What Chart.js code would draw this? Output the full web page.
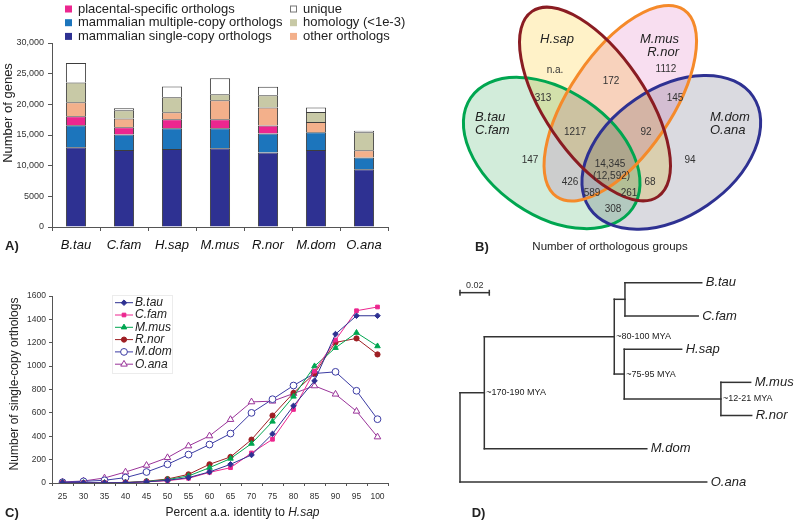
<!DOCTYPE html>
<html>
<head>
<meta charset="utf-8">
<script src="https://cdn.jsdelivr.net/npm/chart.js@4.4.1/dist/chart.umd.min.js"></script>
<style>
  body { margin: 0; background: #fff; }
  #wrap { position: relative; width: 800px; height: 523px; overflow: hidden; background: #fff; }
  canvas { position: absolute; }
</style>
</head>
<body>
<div id="wrap">
  <canvas id="barChart" width="420" height="260" style="left:0;top:0"></canvas>
  <canvas id="vennChart" width="370" height="270" style="left:430px;top:0"></canvas>
  <canvas id="lineChart" width="420" height="263" style="left:0;top:260px"></canvas>
  <canvas id="treeChart" width="370" height="253" style="left:430px;top:270px"></canvas>
</div>
<script>
const FONT = "'Liberation Sans', Arial, Helvetica, sans-serif";
Chart.defaults.font.family = FONT;
Chart.defaults.color = "#333";
Chart.defaults.animation = false;

// ---- A) genes per species, stacked
const species = ["B.tau", "C.fam", "H.sap", "M.mus", "R.nor", "M.dom", "O.ana"];
const singleCopy = [13000, 12550, 12700, 12850, 12150, 12550, 9400];
const multiCopy = [3600, 2550, 3400, 3250, 3100, 2900, 1950];
const placentalSpecific = [1450, 1150, 1450, 1450, 1300, 0, 0];
const otherOrthologs = [2300, 1450, 1150, 3100, 2950, 1650, 1150];
const homology = [3200, 1350, 2450, 1000, 2000, 1650, 2950];
const unique = [3200, 300, 1750, 2600, 1350, 750, 250];
const geneTicks = [0, 5000, 10000, 15000, 20000, 25000, 30000];

// ---- B) venn counts
const vennSets = [["B.tau", "C.fam"], ["H.sap"], ["M.mus", "R.nor"], ["M.dom", "O.ana"]];
const vennCounts = ["n.a.", 172, 1112, 313, 145, 1217, 92, 147, 94, 14345, 426, 68, 589, 261, 308];
const vennCoreSingleCopy = 12592;

// ---- C) single-copy orthologs by identity
const identityBins = ["25", "30", "35", "40", "45", "50", "55", "60", "65", "70", "75", "80", "85", "90", "95", "100"];
const lineSpecies = ["B.tau", "C.fam", "M.mus", "R.nor", "M.dom", "O.ana"];
const btauCounts = [3, 2, 1, 3, 10, 23, 46, 95, 160, 240, 420, 660, 874, 1274, 1431, 1431];
const cfamCounts = [2, 1, 0, 2, 10, 20, 40, 91, 131, 257, 374, 629, 957, 1223, 1474, 1506];
const mmusCounts = [2, 1, 1, 3, 13, 29, 60, 131, 209, 337, 526, 740, 1000, 1157, 1286, 1171];
const rnorCounts = [3, 2, 2, 5, 15, 34, 74, 160, 223, 371, 577, 771, 937, 1203, 1237, 1100];
const mdomCounts = [6, 14, 23, 46, 94, 160, 243, 329, 423, 600, 717, 834, 937, 951, 789, 546];
const oanaCounts = [9, 17, 43, 94, 151, 217, 317, 403, 543, 694, 700, 766, 831, 760, 614, 394];

// ---- D) tree
const treeNodes = ["root", "Theria", "Eutheria", "Laurasiatheria", "Euarchontoglires", "B.tau", "C.fam", "H.sap", "Murinae", "M.mus", "R.nor", "M.dom", "O.ana"];
const treeParents = [null, "root", "Theria", "Eutheria", "Eutheria", "Laurasiatheria", "Laurasiatheria", "Euarchontoglires", "Euarchontoglires", "Murinae", "Murinae", "Theria", "root"];
const branchLengths = [0, 0.0166, 0.0887, 0.0073, 0.0068, 0.0524, 0.0500, 0.0392, 0.0660, 0.0203, 0.0210, 0.1109, 0.1684];
const nodeAges = ["", "~170-190 MYA", "~80-100 MYA", "", "~75-95 MYA", "", "", "", "~12-21 MYA", "", "", "", ""];
const scaleBarLength = 0.02;

function text(ctx, s, x, y, font, align, color) {
  ctx.font = font;
  ctx.textAlign = align || "left";
  ctx.textBaseline = "middle";
  ctx.fillStyle = color || "#222";
  ctx.fillText(s, x, y);
}

function rotatedText(ctx, s, x, y, font) {
  ctx.save();
  ctx.translate(x, y);
  ctx.rotate(-Math.PI / 2);
  text(ctx, s, 0, 0, font, "center", "#222");
  ctx.restore();
}

const bigComma = v => (v >= 10000 ? v.toLocaleString("en-US") : String(v));

// ================= A =================
const barLabels = ["mammalian single-copy orthologs", "mammalian multiple-copy orthologs", "placental-specific orthologs",
  "other orthologs", "homology (<1e-3)", "unique"];
const barValues = [singleCopy, multiCopy, placentalSpecific, otherOrthologs, homology, unique];
const barColors = ["#2e3192", "#1c75bc", "#ec268f", "#f3b08b", "#c8c9a6", "#ffffff"];

const barExtras = {
  id: "barExtras",
  afterDraw(chart) {
    const ctx = chart.ctx;
    ctx.save();
    const columns = [[2, 1, 0], [5, 4, 3]];
    const colX = [65, 290];
    columns.forEach((col, c) => col.forEach((idx, r) => {
      const ds = chart.data.datasets[idx];
      const y = 9 + r * 13.7;
      ctx.fillStyle = ds.backgroundColor;
      ctx.fillRect(colX[c], y - 3.5, 7, 7);
      if (ds.backgroundColor === "#ffffff") {
        ctx.strokeStyle = "#777";
        ctx.lineWidth = 1;
        ctx.strokeRect(colX[c] + 0.5, y - 3, 6, 6);
      }
      text(ctx, ds.label, colX[c] + 13, y, "13px " + FONT);
    }));
    rotatedText(ctx, "Number of genes", 8, 113, "13px " + FONT);
    text(ctx, "A)", 5, 246, "bold 13px " + FONT);
    ctx.restore();
  }
};

new Chart(document.getElementById("barChart"), {
  type: "bar",
  data: {
    labels: species,
    datasets: barLabels.map((label, i) => ({
      label,
      data: barValues[i],
      backgroundColor: barColors[i],
      borderColor: "#3d3d3d",
      borderWidth: 1,
      barPercentage: 0.42,
      categoryPercentage: 1
    }))
  },
  options: {
    responsive: false,
    layout: { padding: { top: 43, right: 32, left: 0, bottom: 0 } },
    plugins: { legend: { display: false }, tooltip: { enabled: false } },
    scales: {
      x: {
        stacked: true,
        grid: { offset: true, drawOnChartArea: false, tickLength: 4, color: "#555" },
        border: { color: "#555" },
        ticks: { font: { size: 13, style: "italic" }, color: "#111", padding: 7 },
        afterFit: s => { s.height = 33; }
      },
      y: {
        stacked: true,
        min: 0,
        max: 30000,
        afterBuildTicks: s => { s.ticks = geneTicks.map(v => ({ value: v })); },
        grid: { drawOnChartArea: false, tickLength: 4, color: "#555" },
        border: { color: "#555" },
        ticks: { font: { size: 9 }, color: "#333", padding: 4, callback: v => bigComma(v) },
        afterFit: s => { s.width = 52; }
      }
    }
  },
  plugins: [barExtras]
});

// ================= B =================
const vennShapes = [
  { cx: 121.7, cy: 153, rx: 98, ry: 62.6, rot: 34.3, fill: "rgb(210,236,218)", stroke: "#00a650" },
  { cx: 241.3, cy: 152.3, rx: 99, ry: 64, rot: -34.3, fill: "rgb(218,218,224)", stroke: "#2e3192" },
  { cx: 190.3, cy: 103.2, rx: 113, ry: 51, rot: -55.8, fill: "rgb(248,222,240)", stroke: "#f58a2a" },
  { cx: 165, cy: 104, rx: 112, ry: 50.4, rot: 55.8, fill: "rgb(255,242,200)", stroke: "#8a1c22" }
];
const vennCountPos = [[125, 70], [181, 81], [236, 69], [113, 98], [245, 98], [145, 132], [216, 132], [100, 160],
  [260, 160], [180, 164], [140, 182], [220, 182], [162, 193], [199, 193], [183, 209]];
const vennSetPos = [[45, 117, "left"], [127, 39, "center"], [249, 39, "right"], [280, 117, "left"]];

const vennExtras = {
  id: "vennExtras",
  beforeDatasetsDraw(chart) {
    const ctx = chart.ctx, sx = chart.scales.x, sy = chart.scales.y;
    const px = v => sx.getPixelForValue(v), py = v => sy.getPixelForValue(v);
    ctx.save();
    ctx.globalCompositeOperation = "multiply";
    vennShapes.forEach(e => {
      ctx.beginPath();
      ctx.ellipse(px(e.cx), py(e.cy), px(e.rx) - px(0), Math.abs(py(e.ry) - py(0)), e.rot * Math.PI / 180, 0, Math.PI * 2);
      ctx.fillStyle = e.fill;
      ctx.fill();
    });
    ctx.globalCompositeOperation = "source-over";
    ctx.lineWidth = 3;
    vennShapes.forEach(e => {
      ctx.beginPath();
      ctx.ellipse(px(e.cx), py(e.cy), px(e.rx) - px(0), Math.abs(py(e.ry) - py(0)), e.rot * Math.PI / 180, 0, Math.PI * 2);
      ctx.strokeStyle = e.stroke;
      ctx.stroke();
    });
    ctx.restore();
  },
  afterDraw(chart) {
    const ctx = chart.ctx, sx = chart.scales.x, sy = chart.scales.y;
    ctx.save();
    chart.data.datasets[0].data.forEach(p => {
      text(ctx, p.label, sx.getPixelForValue(p.x), sy.getPixelForValue(p.y), "10px " + FONT, "center", "#333");
    });
    const core = chart.data.datasets[0].data[9];
    text(ctx, "(" + bigComma(vennCoreSingleCopy) + ")", sx.getPixelForValue(core.x + 1.5), sy.getPixelForValue(core.y + 12),
      "10px " + FONT, "center", "#333");
    vennSets.forEach((names, i) => names.forEach((n, j) => {
      const [x, y, align] = vennSetPos[i];
      text(ctx, n, sx.getPixelForValue(x), sy.getPixelForValue(y + j * 13.5), "italic 13px " + FONT, align, "#222");
    }));
    text(ctx, "B)", 45, 247, "bold 13px " + FONT);
    text(ctx, "Number of orthologous groups", 180, 247, "11.5px " + FONT, "center");
    ctx.restore();
  }
};

new Chart(document.getElementById("vennChart"), {
  type: "scatter",
  data: {
    datasets: [{
      data: vennCounts.map((c, i) => ({ x: vennCountPos[i][0], y: vennCountPos[i][1], label: typeof c === "number" ? bigComma(c) : c })),
      pointRadius: 0
    }]
  },
  options: {
    responsive: false,
    layout: { padding: 0 },
    plugins: { legend: { display: false }, tooltip: { enabled: false } },
    scales: {
      x: { display: false, min: 0, max: 370 },
      y: { display: false, min: 0, max: 270, reverse: true }
    }
  },
  plugins: [vennExtras]
});

// ================= C =================
const lineValues = [btauCounts, cfamCounts, mmusCounts, rnorCounts, mdomCounts, oanaCounts];
const lineColors = ["#2e3192", "#ec268f", "#00a651", "#9e1f24", "#3b3ba3", "#993399"];
const pointStyles = ["rectRot", "rect", "triangle", "circle", "circle", "triangle"];
const pointRadii = [2.8, 2.6, 3.2, 2.6, 3.4, 3.8];
const openMarker = [false, false, false, false, true, true];

const lineExtras = {
  id: "lineExtras",
  afterDraw(chart) {
    const ctx = chart.ctx;
    ctx.save();
    ctx.strokeStyle = "#ececec";
    ctx.lineWidth = 1;
    ctx.strokeRect(112.5, 35.5, 60, 78);
    chart.data.datasets.forEach((ds, i) => {
      const y = 42.7 + i * 12.3;
      ctx.strokeStyle = ds.borderColor;
      ctx.lineWidth = 1;
      ctx.beginPath();
      ctx.moveTo(115, y);
      ctx.lineTo(133, y);
      ctx.stroke();
      ctx.fillStyle = ds.pointBackgroundColor;
      ctx.strokeStyle = ds.borderColor;
      Chart.helpers.drawPoint(ctx, { pointStyle: ds.pointStyle, radius: ds.pointRadius, borderWidth: 1, rotation: 0 }, 124, y);
      text(ctx, ds.label, 135, y, "italic 12px " + FONT);
    });
    rotatedText(ctx, "Number of single-copy orthologs", 15, 124, "12px " + FONT);
    const a = "Percent a.a. identity to ", b = "H.sap";
    ctx.font = "12px " + FONT;
    const wa = ctx.measureText(a).width;
    ctx.font = "italic 12px " + FONT;
    const wb = ctx.measureText(b).width;
    const x0 = 242.5 - (wa + wb) / 2;
    text(ctx, a, x0, 252.3, "12px " + FONT);
    text(ctx, b, x0 + wa, 252.3, "italic 12px " + FONT);
    text(ctx, "C)", 5, 253.3, "bold 13px " + FONT);
    ctx.restore();
  }
};

new Chart(document.getElementById("lineChart"), {
  type: "line",
  data: {
    labels: identityBins,
    datasets: lineSpecies.map((name, i) => ({
      label: name,
      data: lineValues[i],
      borderColor: lineColors[i],
      backgroundColor: lineColors[i],
      pointBackgroundColor: openMarker[i] ? "#ffffff" : lineColors[i],
      pointBorderColor: lineColors[i],
      pointStyle: pointStyles[i],
      pointRadius: pointRadii[i],
      pointBorderWidth: 1,
      borderWidth: 1,
      tension: 0
    }))
  },
  options: {
    responsive: false,
    layout: { padding: { top: 36, right: 32, left: 0, bottom: 0 } },
    plugins: { legend: { display: false }, tooltip: { enabled: false } },
    scales: {
      x: {
        offset: true,
        grid: { offset: true, drawOnChartArea: false, tickLength: 3, color: "#555" },
        border: { color: "#555" },
        ticks: { font: { size: 8.5 }, color: "#333", padding: 6, maxRotation: 0, autoSkip: false },
        afterFit: s => { s.height = 40; }
      },
      y: {
        min: 0,
        max: 1600,
        ticks: { stepSize: 200, font: { size: 8.5 }, color: "#333", padding: 3, callback: v => String(v) },
        grid: { drawOnChartArea: false, tickLength: 3, color: "#555" },
        border: { color: "#555" },
        afterFit: s => { s.width = 52; }
      }
    }
  },
  plugins: [lineExtras]
});

// ================= D =================
const depth = {}, children = {}, ypos = {};
treeNodes.forEach(n => { children[n] = []; });
treeNodes.forEach((n, i) => {
  const p = treeParents[i];
  depth[n] = p ? depth[p] + branchLengths[i] : 0;
  if (p) children[p].push(n);
});
let leafIndex = 0;
function place(n) {
  if (!children[n].length) { ypos[n] = leafIndex++; return ypos[n]; }
  const ys = children[n].map(place);
  ypos[n] = (ys[0] + ys[ys.length - 1]) / 2;
  return ypos[n];
}
place("root");

const treeSegments = [];
treeNodes.forEach((n, i) => {
  const p = treeParents[i];
  if (p) treeSegments.push([{ x: depth[p], y: ypos[n] }, { x: depth[n], y: ypos[n] }]);
});
treeNodes.forEach(n => {
  const c = children[n];
  if (c.length) treeSegments.push([{ x: depth[n], y: ypos[c[0]] }, { x: depth[n], y: ypos[c[c.length - 1]] }]);
});
const scaleBarY = 0.3;
treeSegments.push([{ x: 0, y: scaleBarY }, { x: scaleBarLength, y: scaleBarY }]);

const treeExtras = {
  id: "treeExtras",
  afterDraw(chart) {
    const ctx = chart.ctx, sx = chart.scales.x, sy = chart.scales.y;
    ctx.save();
    treeNodes.forEach((n, i) => {
      const x = sx.getPixelForValue(depth[n]), y = sy.getPixelForValue(ypos[n]);
      if (!children[n].length) text(ctx, n, x + 4, y, "italic 13px " + FONT, "left", "#222");
      if (nodeAges[i]) text(ctx, nodeAges[i], x + 2, y, "9px " + FONT, "left", "#222");
    });
    const y = sy.getPixelForValue(scaleBarY);
    const x1 = sx.getPixelForValue(0), x2 = sx.getPixelForValue(scaleBarLength);
    ctx.strokeStyle = "#333";
    ctx.lineWidth = 1.5;
    ctx.beginPath();
    ctx.moveTo(x1, y - 3); ctx.lineTo(x1, y + 3);
    ctx.moveTo(x2, y - 3); ctx.lineTo(x2, y + 3);
    ctx.stroke();
    text(ctx, String(scaleBarLength), (x1 + x2) / 2, y - 7, "9px " + FONT, "center", "#333");
    text(ctx, "D)", 41.7, 243.5, "bold 13px " + FONT);
    ctx.restore();
  }
};

new Chart(document.getElementById("treeChart"), {
  type: "scatter",
  data: {
    datasets: treeSegments.map(seg => ({
      data: seg,
      showLine: true,
      borderColor: "#333",
      borderWidth: 1.5,
      borderCapStyle: "square",
      pointRadius: 0,
      clip: false
    }))
  },
  options: {
    responsive: false,
    layout: { padding: { left: 30, right: 47, top: 12.7, bottom: 41 } },
    plugins: { legend: { display: false }, tooltip: { enabled: false } },
    scales: {
      x: { display: false, min: 0, max: 0.2 },
      y: { display: false, min: 0, max: 6, reverse: true }
    }
  },
  plugins: [treeExtras]
});
</script>
</body>
</html>
